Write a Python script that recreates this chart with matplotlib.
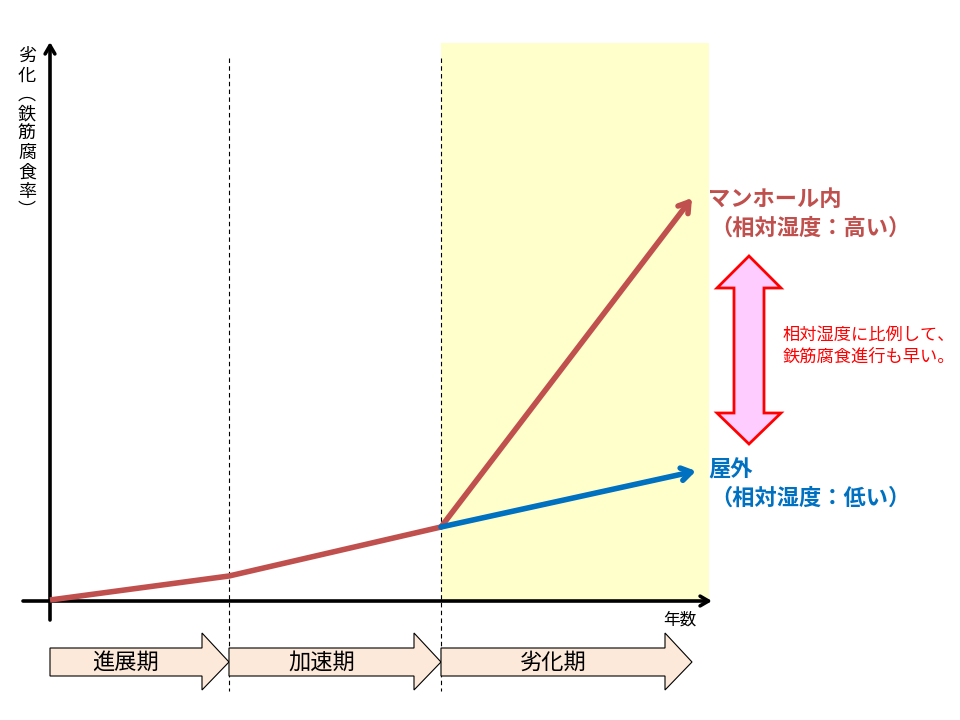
import matplotlib
matplotlib.use("Agg")
import matplotlib.pyplot as plt
from matplotlib.patches import Polygon, Rectangle

plt.rcParams['font.family'] = ['Noto Sans CJK JP', 'DejaVu Sans']

# data (arbitrary units: years vs deterioration)
phase_bounds = [0, 17.9, 39.1, 64.2]
phase_names = ["進展期", "加速期", "劣化期"]
red_x = [0, 17.9, 39.1, 64.2]
red_y = [0.1, 2.5, 7.4, 40.3]
blue_x = [39.1, 64.6]
blue_y = [7.4, 13.0]

red = "#C0504D"
blue = "#0070C0"

fig = plt.figure(figsize=(9.6, 7.2), dpi=100)
ax = fig.add_axes([0, 0, 1, 1])
ax.set_xlim(-5.0, 91.0)
ax.set_ylim(-11.9, 60.1)
ax.axis("off")

# shaded deterioration zone
ax.add_patch(Rectangle((phase_bounds[2], 0), 65.9 - phase_bounds[2], 55.8,
                       facecolor="#FFFFCC", edgecolor="none", zorder=0))

# phase separators
for xb in phase_bounds[1:3]:
    ax.plot([xb, xb], [54.3, -9.0], color="black", lw=0.8, ls=(0, (4, 3)), zorder=1)

# axes arrows
ax.annotate("", xy=(66.2, 0), xytext=(-2.7, 0),
            arrowprops=dict(arrowstyle="->,head_length=0.6,head_width=0.35", lw=2.6, color="black",
                            shrinkA=0, shrinkB=0), zorder=3)
ax.annotate("", xy=(0, 55.9), xytext=(0, -1.9),
            arrowprops=dict(arrowstyle="->,head_length=0.6,head_width=0.35", lw=2.6, color="black",
                            shrinkA=0, shrinkB=0), zorder=3)

# curves
ax.plot(red_x[:3], red_y[:3], color=red, lw=4.0, solid_capstyle="butt", zorder=4)
ax.annotate("", xy=(red_x[3], red_y[3]), xytext=(red_x[2], red_y[2]),
            arrowprops=dict(arrowstyle="->,head_length=0.7,head_width=0.45", lw=4.0, color=red,
                            shrinkA=0, shrinkB=0), zorder=4)
ax.annotate("", xy=(blue_x[1], blue_y[1]), xytext=(blue_x[0], blue_y[0]),
            arrowprops=dict(arrowstyle="->,head_length=0.7,head_width=0.45", lw=4.0, color=blue,
                            shrinkA=0, shrinkB=0), zorder=5)

# phase chevrons
body_top, body_bot = -4.7, -7.5
head_top, head_bot = -3.2, -8.9
for i, name in enumerate(phase_names):
    x0, x1 = phase_bounds[i], phase_bounds[i + 1]
    xb = x1 - 2.7
    ym = (body_top + body_bot) / 2
    verts = [(x0, body_top), (xb, body_top), (xb, head_top), (x1, ym),
             (xb, head_bot), (xb, body_bot), (x0, body_bot)]
    ax.add_patch(Polygon(verts, closed=True, facecolor="#FDE9D9", edgecolor="black", lw=0.8, zorder=2))
    ax.text((x0 + xb) / 2, ym, name, ha="center", va="center", fontsize=16, zorder=3)

# axis labels
ax.text(-2.3, 55.4, "\n".join("劣化︵鉄筋腐食率︶"), ha="center", va="top",
        fontsize=13, linespacing=1.1)
ax.text(63.0, -1.9, "年数", ha="center", va="center", fontsize=12)

# series labels
ax.text(65.8, 40.1, "マンホール内", color=red, fontsize=16, fontweight="bold", va="center")
ax.text(66.0, 37.3, "（相対湿度：高い）", color=red, fontsize=16, fontweight="bold", va="center")
ax.text(65.8, 13.1, "屋外", color=blue, fontsize=16, fontweight="bold", va="center")
ax.text(66.0, 10.3, "（相対湿度：低い）", color=blue, fontsize=16, fontweight="bold", va="center")

# double arrow showing the gap
cx = 69.9
dbl = [(cx, 34.5), (cx + 3.2, 31.3), (cx + 1.5, 31.3), (cx + 1.5, 18.8), (cx + 3.2, 18.8),
       (cx, 15.7), (cx - 3.2, 18.8), (cx - 1.5, 18.8), (cx - 1.5, 31.3), (cx - 3.2, 31.3)]
ax.add_patch(Polygon(dbl, closed=True, facecolor="#FFCCFF", edgecolor="#FF0000", lw=2.0, zorder=3))
ax.text(73.3, 25.5, "相対湿度に比例して、\n鉄筋腐食進行も早い。", color="#FF0000",
        fontsize=12.4, va="center", ha="left", linespacing=1.3)

fig.savefig("out.png", dpi=100)
